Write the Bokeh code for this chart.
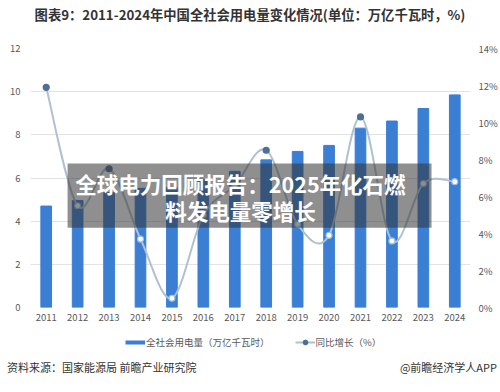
from bokeh.plotting import figure
from bokeh.layouts import column
from bokeh.models import (Range1d, LinearAxis, FixedTicker, PrintfTickFormatter, FactorRange,
                          ColumnDataSource, Label, BoxAnnotation, Legend, LegendItem, Div)
from bokeh.embed import file_html
from bokeh.resources import INLINE

years = ["2011", "2012", "2013", "2014", "2015", "2016", "2017",
         "2018", "2019", "2020", "2021", "2022", "2023", "2024"]
consumption = [4.70, 4.96, 5.32, 5.52, 5.55, 5.92, 6.31, 6.84, 7.23, 7.51, 8.31, 8.64, 9.22, 9.85]
growth = [11.9, 5.5, 7.5, 3.7, 0.5, 5.0, 6.6, 8.5, 4.5, 3.9, 10.3, 3.6, 6.7, 6.8]
left_ticks = [0, 2, 4, 6, 8, 10, 12]
right_ticks = [0, 2, 4, 6, 8, 10, 12, 14]

title_text = "图表9：2011-2024年中国全社会用电量变化情况(单位：万亿千瓦时，%)"
bar_label = "全社会用电量（万亿千瓦时）"
line_label = "同比增长（%）"
source_text = "资料来源：国家能源局 前瞻产业研究院"
brand_text = "@前瞻经济学人APP"
banner_line1 = "全球电力回顾报告：2025年化石燃"
banner_line2 = "料发电量零增长"

FONT = "Noto Sans CJK SC"
BAR = "#3A7FD4"
GRID = "#E3E3E3"
TICK = "#595959"
LINE = "#AFC0D2"
DARK = "#4E6E95"
W = 500
NAN = float("nan")

# header with the title
head = Div(text=(f'<div style="width:{W}px;text-align:center;font-family:\'{FONT}\';'
                 f'font-size:13.3px;font-weight:bold;color:#333333;line-height:30px;'
                 f'white-space:nowrap;">{title_text}</div>'),
           width=W, height=38, margin=0)

# main chart
p = figure(width=W, height=290, x_range=FactorRange(*years), y_range=Range1d(0, 12),
           output_backend="svg", toolbar_location=None,
           min_border_left=30, min_border_right=30, min_border_top=10, min_border_bottom=21)
p.outline_line_color = None
p.extra_y_ranges = {"pct": Range1d(0, 14)}

p.yaxis.ticker = FixedTicker(ticks=left_ticks)
rax = LinearAxis(y_range_name="pct", ticker=FixedTicker(ticks=right_ticks),
                 formatter=PrintfTickFormatter(format="%d%%"))
p.add_layout(rax, "right")
for ax in [p.xaxis[0], p.yaxis[0], rax]:
    ax.axis_line_color = None
    ax.major_tick_line_color = None
    ax.minor_tick_line_color = None
    ax.major_tick_out = 0
    ax.major_tick_in = 0
    ax.minor_tick_out = 0
    ax.major_label_text_color = TICK
    ax.major_label_text_font = FONT
    ax.major_label_text_font_size = "9.5px"
p.yaxis[0].major_label_standoff = 10
rax.major_label_standoff = 8
p.xaxis.major_label_standoff = 6

p.xgrid.grid_line_color = None
p.ygrid.grid_line_color = GRID
p.ygrid.ticker = FixedTicker(ticks=left_ticks)

src = ColumnDataSource(dict(year=years, val=consumption))
p.vbar(x="year", top="val", width=0.34, source=src, color=BAR)

# smooth growth line (cubic bezier through the data points)
n = len(growth)
xs = [i + 0.5 for i in range(n)]
seg = dict(x0=[], y0=[], x1=[], y1=[], cx0=[], cy0=[], cx1=[], cy1=[])
for i in range(n - 1):
    xa, ya = xs[max(i - 1, 0)], growth[max(i - 1, 0)]
    xb, yb = xs[i], growth[i]
    xc, yc = xs[i + 1], growth[i + 1]
    xd, yd = xs[min(i + 2, n - 1)], growth[min(i + 2, n - 1)]
    seg["x0"].append(xb); seg["y0"].append(yb)
    seg["x1"].append(xc); seg["y1"].append(yc)
    seg["cx0"].append(xb + (xc - xa) / 6); seg["cy0"].append(yb + (yc - ya) / 6)
    seg["cx1"].append(xc - (xd - xb) / 6); seg["cy1"].append(yc - (yd - yb) / 6)
p.bezier(source=ColumnDataSource(seg), x0="x0", y0="y0", x1="x1", y1="y1",
         cx0="cx0", cy0="cy0", cx1="cx1", cy1="cy1",
         line_color=LINE, line_width=2, y_range_name="pct")

fills, outlines = [], []
for i, g in enumerate(growth):
    left_ok = i == 0 or g > growth[i - 1]
    right_ok = i == n - 1 or g > growth[i + 1]
    peak = left_ok and right_ok and i != n - 1
    fills.append(DARK if peak else "white")
    outlines.append(DARK if peak else "#9DBFE3")
msrc = ColumnDataSource(dict(year=years, g=growth, f=fills, o=outlines))
p.scatter(x="year", y="g", source=msrc, size=6, fill_color="f", line_color="o",
          line_width=1.2, y_range_name="pct")

# banner overlay
p.add_layout(BoxAnnotation(left=1.18, right=12.76, bottom=3.7, top=6.67,
                           fill_color="#333333", fill_alpha=0.55, line_color=None))
for txt, yy in [(banner_line1, 5.74), (banner_line2, 4.49)]:
    p.add_layout(Label(x=6.68, y=yy, text=txt, text_align="center", text_baseline="middle",
                       text_color="white", text_font=FONT, text_font_style="bold",
                       text_font_size="21.5px"))

# legend strip (frame aligned with the chart: 30px borders)
leg = figure(width=W, height=26, x_range=Range1d(0, 1), y_range=Range1d(0, 1),
             output_backend="svg", toolbar_location=None,
             min_border_left=30, min_border_right=30, min_border_top=0, min_border_bottom=0)
leg.axis.visible = False
leg.grid.visible = False
leg.outline_line_color = None
leg_bar = leg.line(x=[NAN], y=[NAN], line_color=BAR, line_width=4)
leg_line = leg.line(x=[NAN], y=[NAN], line_color=LINE, line_width=2)
leg_dot = leg.scatter(x=[NAN], y=[NAN], size=5, fill_color=DARK, line_color=DARK)
legend = Legend(items=[LegendItem(label=bar_label, renderers=[leg_bar]),
                       LegendItem(label=line_label, renderers=[leg_line, leg_dot])],
                location=(95, 5), orientation="horizontal",
                border_line_color=None, background_fill_alpha=0, padding=0, margin=0,
                spacing=25, label_standoff=1, glyph_width=20, glyph_height=12, label_height=12,
                label_text_font=FONT, label_text_font_size="9.5px", label_text_color=TICK)
leg.add_layout(legend, "center")

# footer with the source line
foot = Div(text=(f'<div style="width:{W}px;display:flex;justify-content:space-between;'
                 f'box-sizing:border-box;padding:0 3px 0 7px;font-family:\'{FONT}\';'
                 f'font-size:11px;color:#333333;line-height:26px;white-space:nowrap;">'
                 f'<span>{source_text}</span><span>{brand_text}</span></div>'),
           width=W, height=38, margin=0)

layout = column(head, p, leg, foot, spacing=0)
open("out.html", "w").write(file_html(layout, INLINE))
